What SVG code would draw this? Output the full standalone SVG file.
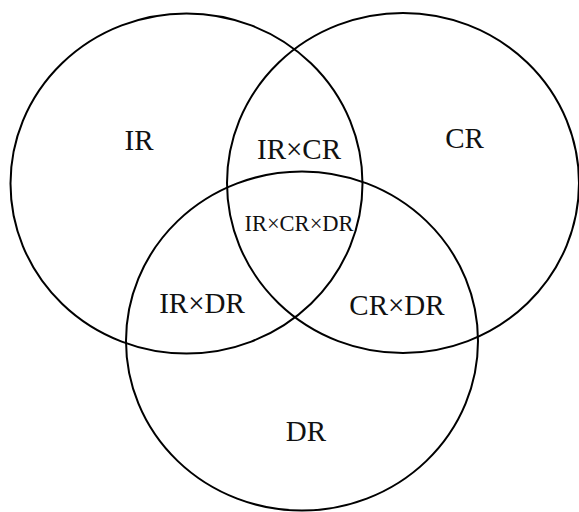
<svg xmlns="http://www.w3.org/2000/svg" width="579" height="512" viewBox="0 0 579 512">
  <style>
    .set { fill: none; stroke: #000; stroke-width: 2; }
    .lbl { font-family: "Liberation Serif", "Times New Roman", serif; font-size: 29px; fill: #111; text-anchor: middle; }
    .lbl.small { font-size: 22.5px; }
  </style>
  <rect width="579" height="512" fill="#fff"/>
  <g id="set-ir">
    <ellipse class="set" cx="186.5" cy="183.5" rx="176" ry="170"/>
    <text class="lbl" x="139" y="150">IR</text>
  </g>
  <g id="set-cr">
    <ellipse class="set" cx="403" cy="183" rx="176" ry="170"/>
    <text class="lbl" x="464.5" y="148">CR</text>
  </g>
  <g id="set-dr">
    <ellipse class="set" cx="302" cy="341" rx="176" ry="169.5"/>
    <text class="lbl" x="306" y="441">DR</text>
  </g>
  <g id="intersections">
    <text class="lbl" x="299" y="159">IR×CR</text>
    <text class="lbl small" x="299" y="231">IR×CR×DR</text>
    <text class="lbl" x="202" y="313">IR×DR</text>
    <text class="lbl" x="397" y="315">CR×DR</text>
  </g>
</svg>
